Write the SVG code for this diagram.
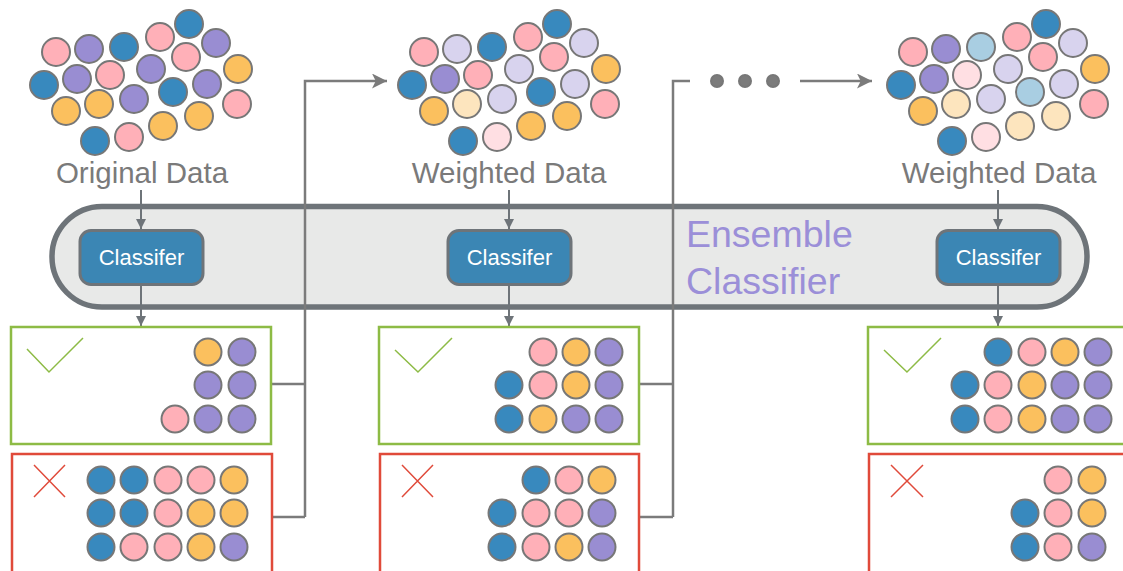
<svg xmlns="http://www.w3.org/2000/svg" width="1123" height="571" viewBox="0 0 1123 571">
<style>
circle{stroke:#777;stroke-width:2}
.b{fill:#3889be}.k{fill:#ffb0b8}.p{fill:#998dd2}.o{fill:#fbc05e}
.lb{fill:#a9cee2}.lk{fill:#ffdfe3}.lp{fill:#d8d3ee}.lo{fill:#fde5be}
.lbl{font-family:"Liberation Sans",Arial,sans-serif;font-size:29.5px;fill:#7a7a7a;text-anchor:middle}
.cls rect{fill:#3b86b4;stroke:#6e7479;stroke-width:3}
.cls text{font-family:"Liberation Sans",Arial,sans-serif;font-size:22px;fill:#ffffff;text-anchor:middle}
.ok{fill:#fff;stroke:#8dbb45;stroke-width:2.5}
.bad{fill:#fff;stroke:#e04a3a;stroke-width:2.5}
.conn{fill:none;stroke:#7b7b7b;stroke-width:2.5}
.arr{fill:none;stroke:#6e7479;stroke-width:2}
</style>
<defs>
<marker id="ah" viewBox="0 0 10 10" refX="10" refY="5" markerWidth="6" markerHeight="5" orient="auto" markerUnits="strokeWidth">
<path d="M0,0 L10,5 L0,10 z" fill="#6e7479"/>
</marker>
<marker id="ah2" viewBox="0 0 10 10" refX="10" refY="5" markerWidth="7.5" markerHeight="6" orient="auto" markerUnits="strokeWidth">
<path d="M0,0 L10,5 L0,10 L2.5,5 z" fill="#7b7b7b"/>
</marker>
</defs>

<g id="cloud-original">
<circle cx="56" cy="52" r="14" class="k"/><circle cx="89" cy="49" r="14" class="p"/><circle cx="124" cy="47" r="14" class="b"/><circle cx="160" cy="37" r="14" class="k"/><circle cx="189" cy="24" r="14" class="b"/><circle cx="216" cy="43" r="14" class="p"/><circle cx="186" cy="57" r="14" class="k"/><circle cx="151" cy="69" r="14" class="p"/><circle cx="110" cy="75" r="14" class="k"/><circle cx="77" cy="79" r="14" class="p"/><circle cx="44" cy="85" r="14" class="b"/><circle cx="238" cy="69" r="14" class="o"/><circle cx="207" cy="84" r="14" class="p"/><circle cx="173" cy="92" r="14" class="b"/><circle cx="134" cy="99" r="14" class="p"/><circle cx="99" cy="104" r="14" class="o"/><circle cx="66" cy="111" r="14" class="o"/><circle cx="237" cy="104" r="14" class="k"/><circle cx="199" cy="116" r="14" class="o"/><circle cx="163" cy="126" r="14" class="o"/><circle cx="129" cy="137" r="14" class="k"/><circle cx="95" cy="141" r="14" class="b"/>
<text x="142" y="183" class="lbl">Original Data</text>
</g>

<g id="cloud-weighted-1">
<circle cx="424" cy="52" r="14" class="k"/><circle cx="457" cy="49" r="14" class="lp"/><circle cx="492" cy="47" r="14" class="b"/><circle cx="528" cy="37" r="14" class="k"/><circle cx="557" cy="24" r="14" class="b"/><circle cx="584" cy="43" r="14" class="lp"/><circle cx="554" cy="57" r="14" class="k"/><circle cx="519" cy="69" r="14" class="lp"/><circle cx="478" cy="75" r="14" class="k"/><circle cx="445" cy="79" r="14" class="p"/><circle cx="412" cy="85" r="14" class="b"/><circle cx="606" cy="69" r="14" class="o"/><circle cx="575" cy="84" r="14" class="lp"/><circle cx="541" cy="92" r="14" class="b"/><circle cx="502" cy="99" r="14" class="lp"/><circle cx="467" cy="104" r="14" class="lo"/><circle cx="434" cy="111" r="14" class="o"/><circle cx="605" cy="104" r="14" class="k"/><circle cx="567" cy="116" r="14" class="o"/><circle cx="531" cy="126" r="14" class="o"/><circle cx="497" cy="137" r="14" class="lk"/><circle cx="463" cy="141" r="14" class="b"/>
<text x="509" y="183" class="lbl">Weighted Data</text>
</g>

<g id="cloud-weighted-2">
<circle cx="913" cy="52" r="14" class="k"/><circle cx="946" cy="49" r="14" class="p"/><circle cx="981" cy="47" r="14" class="lb"/><circle cx="1017" cy="37" r="14" class="k"/><circle cx="1046" cy="24" r="14" class="b"/><circle cx="1073" cy="43" r="14" class="lp"/><circle cx="1043" cy="57" r="14" class="k"/><circle cx="1008" cy="69" r="14" class="lp"/><circle cx="967" cy="75" r="14" class="lk"/><circle cx="934" cy="79" r="14" class="p"/><circle cx="901" cy="85" r="14" class="b"/><circle cx="1095" cy="69" r="14" class="o"/><circle cx="1064" cy="84" r="14" class="lp"/><circle cx="1030" cy="92" r="14" class="lb"/><circle cx="991" cy="99" r="14" class="lp"/><circle cx="956" cy="104" r="14" class="lo"/><circle cx="923" cy="111" r="14" class="o"/><circle cx="1094" cy="104" r="14" class="k"/><circle cx="1056" cy="116" r="14" class="lo"/><circle cx="1020" cy="126" r="14" class="lo"/><circle cx="986" cy="137" r="14" class="lk"/><circle cx="952" cy="141" r="14" class="b"/>
<text x="999" y="183" class="lbl">Weighted Data</text>
</g>

<g id="ensemble">
<rect x="52" y="206.5" width="1035" height="100.5" rx="50" ry="50" fill="#e8e9e8" stroke="#6e7479" stroke-width="5.5"/>
<text x="686" y="247" font-family="Liberation Sans, Arial, sans-serif" font-size="37.5" fill="#9b8fd8">Ensemble</text>
<text x="686" y="294" font-family="Liberation Sans, Arial, sans-serif" font-size="37.5" fill="#9b8fd8">Classifier</text>
</g>

<g id="connectors">
<path class="arr" d="M141,190 V229" marker-end="url(#ah)"/>
<path class="arr" d="M141,286 V326" marker-end="url(#ah)"/>
<path class="arr" d="M509,190 V229" marker-end="url(#ah)"/>
<path class="arr" d="M509,286 V326" marker-end="url(#ah)"/>
<path class="arr" d="M998,190 V229" marker-end="url(#ah)"/>
<path class="arr" d="M998,286 V326" marker-end="url(#ah)"/>
<path class="conn" d="M271,384 H305 M271,517 H305 M305,517 V81 H387" marker-end="url(#ah2)"/>
<path class="conn" d="M639,384 H673 M639,517 H673 M673,517 V81 H690"/>
<path class="conn" d="M800,81 H872" marker-end="url(#ah2)"/>
<circle cx="717" cy="81" r="6" fill="#7b7b7b" stroke="none"/>
<circle cx="745" cy="81" r="6" fill="#7b7b7b" stroke="none"/>
<circle cx="773" cy="81" r="6" fill="#7b7b7b" stroke="none"/>
</g>

<g id="classifier-1" class="cls"><rect x="80" y="230.5" width="123" height="54" rx="11"/><text x="141.5" y="265">Classifer</text></g>
<g id="classifier-2" class="cls"><rect x="448" y="230.5" width="123" height="54" rx="11"/><text x="509.5" y="265">Classifer</text></g>
<g id="classifier-3" class="cls"><rect x="937" y="230.5" width="123" height="54" rx="11"/><text x="998.5" y="265">Classifer</text></g>

<g id="correct-1">
<rect x="11" y="327" width="260" height="117" class="ok"/>
<path d="M27,349 L49,372 L83,338" fill="none" stroke="#8dbb45" stroke-width="1.5"/>
<circle cx="208" cy="352" r="13.5" class="o"/><circle cx="242" cy="352" r="13.5" class="p"/>
<circle cx="208" cy="385" r="13.5" class="p"/><circle cx="242" cy="385" r="13.5" class="p"/>
<circle cx="175" cy="419" r="13.5" class="k"/><circle cx="208" cy="419" r="13.5" class="p"/><circle cx="242" cy="419" r="13.5" class="p"/>
</g>
<g id="wrong-1">
<rect x="12" y="454" width="260" height="130" class="bad"/>
<path d="M34,465 L65,497 M65,465 L34,497" fill="none" stroke="#e04a3a" stroke-width="1.5"/>
<circle cx="101" cy="480" r="13.5" class="b"/><circle cx="134" cy="480" r="13.5" class="b"/><circle cx="168" cy="480" r="13.5" class="k"/><circle cx="201" cy="480" r="13.5" class="k"/><circle cx="234" cy="480" r="13.5" class="o"/>
<circle cx="101" cy="513" r="13.5" class="b"/><circle cx="134" cy="513" r="13.5" class="b"/><circle cx="168" cy="513" r="13.5" class="k"/><circle cx="201" cy="513" r="13.5" class="o"/><circle cx="234" cy="513" r="13.5" class="o"/>
<circle cx="101" cy="547" r="13.5" class="b"/><circle cx="134" cy="547" r="13.5" class="k"/><circle cx="168" cy="547" r="13.5" class="k"/><circle cx="201" cy="547" r="13.5" class="o"/><circle cx="234" cy="547" r="13.5" class="p"/>
</g>

<g id="correct-2">
<rect x="379" y="327" width="260" height="117" class="ok"/>
<path d="M395,350 L418,372 L452,338" fill="none" stroke="#8dbb45" stroke-width="1.5"/>
<circle cx="543" cy="352" r="13.5" class="k"/><circle cx="576" cy="352" r="13.5" class="o"/><circle cx="609" cy="352" r="13.5" class="p"/>
<circle cx="509" cy="385" r="13.5" class="b"/><circle cx="543" cy="385" r="13.5" class="k"/><circle cx="576" cy="385" r="13.5" class="o"/><circle cx="609" cy="385" r="13.5" class="p"/>
<circle cx="509" cy="419" r="13.5" class="b"/><circle cx="543" cy="419" r="13.5" class="o"/><circle cx="576" cy="419" r="13.5" class="p"/><circle cx="609" cy="419" r="13.5" class="p"/>
</g>
<g id="wrong-2">
<rect x="380" y="454" width="259" height="130" class="bad"/>
<path d="M402,465 L433,497 M433,465 L402,497" fill="none" stroke="#e04a3a" stroke-width="1.5"/>
<circle cx="536" cy="480" r="13.5" class="b"/><circle cx="569" cy="480" r="13.5" class="k"/><circle cx="602" cy="480" r="13.5" class="o"/>
<circle cx="502" cy="513" r="13.5" class="b"/><circle cx="536" cy="513" r="13.5" class="k"/><circle cx="569" cy="513" r="13.5" class="k"/><circle cx="602" cy="513" r="13.5" class="p"/>
<circle cx="502" cy="547" r="13.5" class="b"/><circle cx="536" cy="547" r="13.5" class="k"/><circle cx="569" cy="547" r="13.5" class="o"/><circle cx="602" cy="547" r="13.5" class="p"/>
</g>

<g id="correct-3">
<rect x="868" y="327" width="270" height="117" class="ok"/>
<path d="M884,350 L907,372 L941,338" fill="none" stroke="#8dbb45" stroke-width="1.5"/>
<circle cx="998" cy="352" r="13.5" class="b"/><circle cx="1032" cy="352" r="13.5" class="k"/><circle cx="1065" cy="352" r="13.5" class="o"/><circle cx="1098" cy="352" r="13.5" class="p"/>
<circle cx="965" cy="385" r="13.5" class="b"/><circle cx="998" cy="385" r="13.5" class="k"/><circle cx="1032" cy="385" r="13.5" class="o"/><circle cx="1065" cy="385" r="13.5" class="p"/><circle cx="1098" cy="385" r="13.5" class="p"/>
<circle cx="965" cy="419" r="13.5" class="b"/><circle cx="998" cy="419" r="13.5" class="k"/><circle cx="1032" cy="419" r="13.5" class="o"/><circle cx="1065" cy="419" r="13.5" class="p"/><circle cx="1098" cy="419" r="13.5" class="p"/>
</g>
<g id="wrong-3">
<rect x="869" y="454" width="270" height="130" class="bad"/>
<path d="M891,465 L923,497 M923,465 L891,497" fill="none" stroke="#e04a3a" stroke-width="1.5"/>
<circle cx="1058" cy="480" r="13.5" class="k"/><circle cx="1092" cy="480" r="13.5" class="o"/>
<circle cx="1025" cy="513" r="13.5" class="b"/><circle cx="1058" cy="513" r="13.5" class="k"/><circle cx="1092" cy="513" r="13.5" class="o"/>
<circle cx="1025" cy="547" r="13.5" class="b"/><circle cx="1058" cy="547" r="13.5" class="k"/><circle cx="1092" cy="547" r="13.5" class="p"/>
</g>
</svg>
